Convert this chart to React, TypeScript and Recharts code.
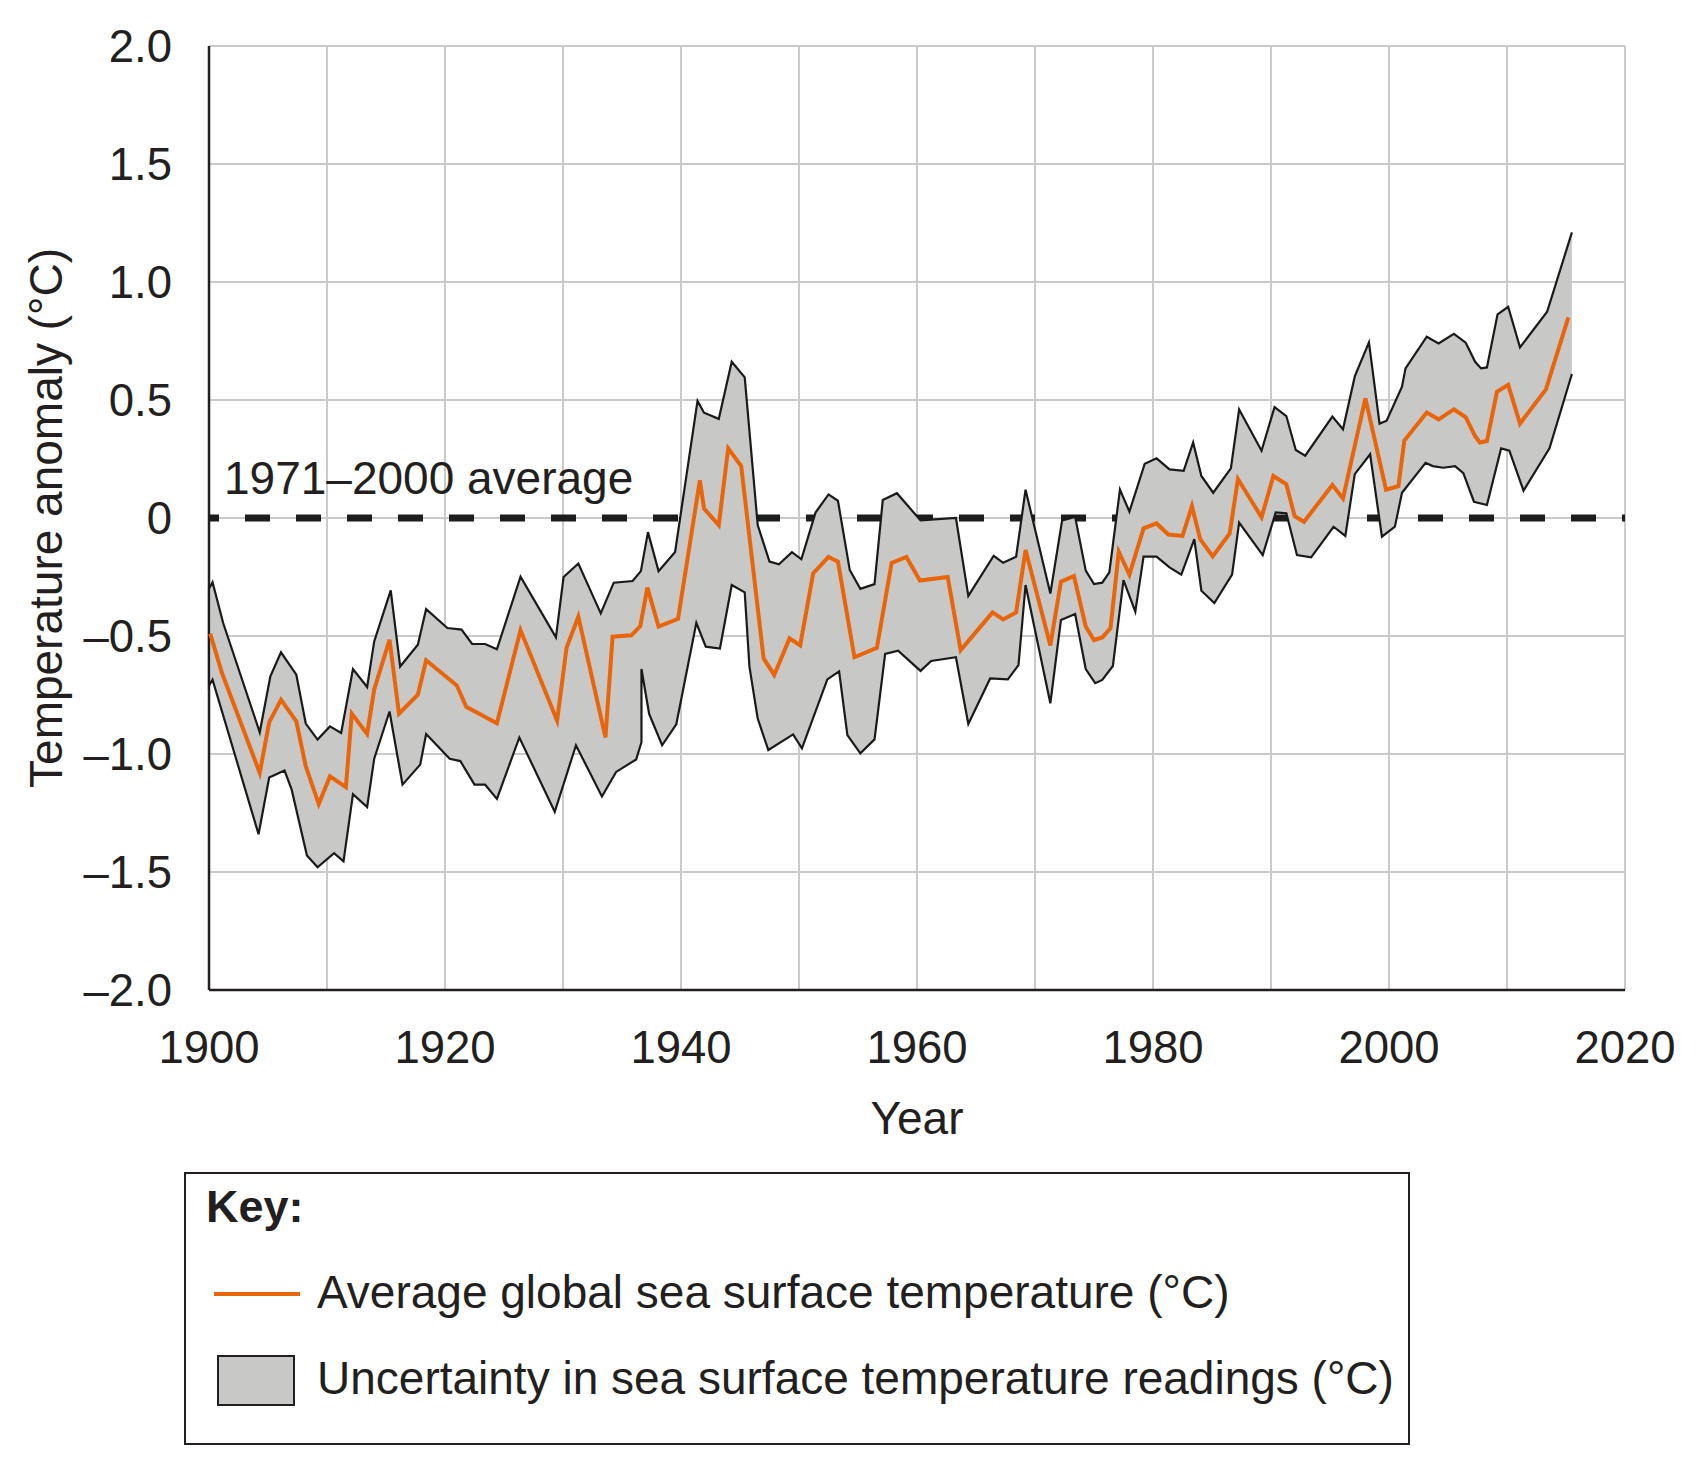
import React from 'react';
import { ScatterChart, Scatter, XAxis, YAxis, CartesianGrid, ReferenceLine } from 'recharts';

// Vertices of the average global sea surface temperature trace: [year, anomaly °C]
const averageSeries: [number, number][] = [
  [1900.1, -0.49], [1901.1, -0.657], [1904.3, -1.08], [1905.1, -0.866], [1906.1, -0.77],
  [1907.4, -0.862], [1908.2, -1.052], [1909.3, -1.212], [1910.25, -1.095], [1911.6, -1.141],
  [1912.1, -0.829], [1913.4, -0.915], [1914.0, -0.727], [1915.3, -0.516], [1916.1, -0.829],
  [1917.7, -0.749], [1918.4, -0.603], [1921.0, -0.71], [1921.8, -0.8], [1924.4, -0.87],
  [1926.4, -0.475], [1929.5, -0.859], [1930.3, -0.55], [1931.3, -0.418], [1933.6, -0.93],
  [1934.2, -0.503], [1935.8, -0.497], [1936.55, -0.458], [1937.15, -0.295], [1938.1, -0.46],
  [1939.75, -0.427], [1941.6, 0.16], [1941.95, 0.04], [1943.2, -0.03], [1944.0, 0.295],
  [1945.1, 0.22], [1947.0, -0.595], [1947.9, -0.665], [1949.2, -0.51], [1950.1, -0.54],
  [1951.2, -0.235], [1952.5, -0.165], [1953.3, -0.185], [1954.7, -0.59], [1956.6, -0.55],
  [1957.85, -0.19], [1959.1, -0.165], [1960.25, -0.265], [1962.6, -0.25], [1963.7, -0.56],
  [1966.4, -0.4], [1967.3, -0.43], [1968.4, -0.4], [1969.2, -0.136], [1971.3, -0.54],
  [1972.2, -0.27], [1973.3, -0.246], [1974.3, -0.46], [1975.0, -0.517], [1975.7, -0.506],
  [1976.4, -0.467], [1977.1, -0.143], [1978.0, -0.24], [1979.2, -0.044], [1980.3, -0.023],
  [1981.3, -0.07], [1982.5, -0.076], [1983.3, 0.05], [1984.0, -0.09], [1985.06, -0.163],
  [1986.5, -0.065], [1987.2, 0.165], [1989.2, 0.003], [1990.2, 0.178], [1991.3, 0.143],
  [1992.0, 0.008], [1992.8, -0.016], [1995.2, 0.14], [1996.1, 0.083], [1998.0, 0.507],
  [1999.75, 0.12], [2000.8, 0.135], [2001.3, 0.328], [2003.2, 0.447], [2004.2, 0.418],
  [2005.5, 0.46], [2006.5, 0.427], [2007.3, 0.347], [2007.7, 0.32], [2008.3, 0.326],
  [2009.15, 0.535], [2010.1, 0.564], [2011.1, 0.4], [2013.3, 0.545], [2015.2, 0.85],
];

// Upper edge of the uncertainty band
const upperBound: [number, number][] = [
  [1900.0, -0.3], [1900.3, -0.272], [1901.2, -0.445], [1904.3, -0.908], [1905.2, -0.671],
  [1906.1, -0.569], [1907.4, -0.664], [1908.2, -0.871], [1909.2, -0.939], [1910.25, -0.883],
  [1911.2, -0.911], [1912.2, -0.64], [1913.4, -0.716], [1914.0, -0.523], [1915.4, -0.307],
  [1916.2, -0.629], [1917.7, -0.537], [1918.4, -0.386], [1920.2, -0.466], [1921.4, -0.473],
  [1922.3, -0.534], [1923.4, -0.534], [1924.4, -0.556], [1926.4, -0.249], [1929.4, -0.506],
  [1930.05, -0.25], [1931.3, -0.193], [1933.2, -0.404], [1934.3, -0.274], [1935.9, -0.267],
  [1936.6, -0.225], [1937.2, -0.06], [1938.1, -0.225], [1939.5, -0.144], [1941.4, 0.496],
  [1941.95, 0.446], [1943.2, 0.42], [1944.3, 0.662], [1945.4, 0.596], [1946.5, -0.03],
  [1947.5, -0.185], [1948.3, -0.196], [1949.4, -0.145], [1950.2, -0.175], [1951.4, 0.023],
  [1952.5, 0.1], [1953.3, 0.073], [1954.3, -0.22], [1955.2, -0.3], [1956.4, -0.28],
  [1957.1, 0.076], [1958.3, 0.105], [1960.3, -0.01], [1963.3, 0.0], [1964.35, -0.33],
  [1966.5, -0.16], [1967.3, -0.19], [1968.4, -0.164], [1969.2, 0.12], [1971.3, -0.32],
  [1972.3, -0.01], [1973.4, 0.005], [1974.3, -0.223], [1975.0, -0.28], [1975.7, -0.274],
  [1976.3, -0.23], [1977.2, 0.12], [1978.0, 0.027], [1979.3, 0.23], [1980.3, 0.253],
  [1981.4, 0.206], [1982.6, 0.2], [1983.4, 0.32], [1984.1, 0.178], [1985.1, 0.107],
  [1986.6, 0.21], [1987.3, 0.46], [1989.2, 0.285], [1990.3, 0.47], [1991.3, 0.432],
  [1992.1, 0.288], [1992.9, 0.264], [1995.2, 0.43], [1996.1, 0.376], [1997.1, 0.6],
  [1998.3, 0.744], [1999.2, 0.4], [1999.8, 0.412], [2001.1, 0.556], [2001.4, 0.634],
  [2003.2, 0.768], [2004.2, 0.74], [2005.5, 0.78], [2006.5, 0.743], [2007.3, 0.662],
  [2007.8, 0.634], [2008.3, 0.638], [2009.2, 0.863], [2010.1, 0.895], [2011.1, 0.723],
  [2013.4, 0.874], [2015.5, 1.21],
];

// Lower edge of the uncertainty band
const lowerBound: [number, number][] = [
  [1900.0, -0.71], [1900.3, -0.685], [1904.2, -1.34], [1905.1, -1.1], [1906.4, -1.07],
  [1907.0, -1.15], [1908.3, -1.43], [1909.2, -1.48], [1910.6, -1.42], [1911.4, -1.455],
  [1912.2, -1.17], [1913.4, -1.225], [1914.0, -1.02], [1915.3, -0.82], [1916.4, -1.13],
  [1917.9, -1.045], [1918.4, -0.915], [1920.4, -1.02], [1921.3, -1.03], [1922.5, -1.13],
  [1923.4, -1.13], [1924.4, -1.19], [1926.3, -0.93], [1929.3, -1.245], [1931.1, -0.963],
  [1933.3, -1.18], [1934.5, -1.076], [1936.2, -1.023], [1936.65, -0.95], [1936.65, -0.64],
  [1937.3, -0.83], [1938.4, -0.963], [1939.6, -0.874], [1941.3, -0.444], [1942.1, -0.545],
  [1943.3, -0.553], [1944.3, -0.284], [1945.4, -0.315], [1945.8, -0.63], [1946.5, -0.85],
  [1947.4, -0.983], [1949.5, -0.917], [1950.25, -0.976], [1952.4, -0.684], [1953.4, -0.65],
  [1954.1, -0.92], [1955.2, -0.997], [1956.4, -0.938], [1957.3, -0.576], [1958.4, -0.562],
  [1960.3, -0.648], [1961.2, -0.606], [1963.3, -0.59], [1964.35, -0.873], [1966.2, -0.68],
  [1967.7, -0.684], [1968.6, -0.623], [1969.2, -0.284], [1971.3, -0.785], [1972.2, -0.432],
  [1973.4, -0.407], [1974.3, -0.64], [1975.1, -0.7], [1975.7, -0.686], [1976.6, -0.627],
  [1977.5, -0.263], [1978.5, -0.397], [1979.2, -0.164], [1980.3, -0.164], [1981.4, -0.209],
  [1982.4, -0.24], [1983.5, -0.09], [1984.1, -0.308], [1985.2, -0.36], [1986.7, -0.24],
  [1987.3, -0.02], [1989.3, -0.157], [1990.4, 0.024], [1991.3, 0.02], [1992.2, -0.157],
  [1993.4, -0.167], [1995.3, -0.037], [1996.3, -0.076], [1997.1, 0.186], [1998.4, 0.27],
  [1999.4, -0.079], [2000.5, -0.037], [2001.1, 0.107], [2003.1, 0.234], [2003.7, 0.22],
  [2004.6, 0.213], [2005.6, 0.22], [2006.3, 0.19], [2007.2, 0.069], [2008.3, 0.055],
  [2009.5, 0.295], [2010.2, 0.285], [2011.4, 0.116], [2013.6, 0.295], [2015.5, 0.61],
];

// The 1971–2000 reference level, drawn across the whole period
const baselineSpan: [number, number][] = [[1900, 0], [2020, 0]];

const yearTicks = [1900, 1910, 1920, 1930, 1940, 1950, 1960, 1970, 1980, 1990, 2000, 2010, 2020];
const anomalyTicks = [-2, -1.5, -1, -0.5, 0, 0.5, 1, 1.5, 2];

const FONT = '"Liberation Sans", Arial, Helvetica, sans-serif';
const INK = '#231f20';
const ORANGE = '#e8650c';
const BAND_FILL = '#c8c8c6';
const GRID = '#cacaca';
const TEXT_SIZE = 46;
const TICK_SIZE = 45.5;

const toPoints = (pairs: [number, number][]) => pairs.map(([year, temp]) => ({ year, temp }));

// Band outline: upper edge right-to-left, then lower edge left-to-right
const bandOutline = toPoints([...upperBound].reverse().concat(lowerBound));
const averagePoints = toPoints(averageSeries);
const baselinePoints = toPoints(baselineSpan);

const NoMarker = () => <g />;

const formatYear = (v: number) => (v % 20 === 0 ? String(v) : '');
const formatAnomaly = (v: number) =>
  v === 0 ? '0' : `${v < 0 ? '\u2013' : ''}${Math.abs(v).toFixed(1)}`;

const BaselineLabel = (props: any) => {
  const { viewBox } = props;
  return (
    <text
      x={viewBox.x + 15}
      y={viewBox.y - 24}
      fontFamily={FONT}
      fontSize={TEXT_SIZE}
      fill={INK}
    >
      1971–2000 average
    </text>
  );
};

export default function App() {
  return (
    <div
      style={{
        position: 'absolute',
        left: 0,
        top: 0,
        width: 1698,
        height: 1464,
        background: '#ffffff',
        fontFamily: FONT,
        color: INK,
      }}
    >
      <ScatterChart
        width={1698}
        height={1160}
        margin={{ top: 46, right: 73, bottom: 0, left: 0 }}
      >
        <CartesianGrid stroke={GRID} strokeWidth={2} />
        <XAxis
          type="number"
          dataKey="year"
          domain={[1900, 2020]}
          ticks={yearTicks}
          tickFormatter={formatYear}
          interval={0}
          height={170}
          tickLine={false}
          tickSize={0}
          tickMargin={41}
          axisLine={{ stroke: INK, strokeWidth: 2.5 }}
          tick={{ fontSize: TICK_SIZE, fill: INK, fontFamily: FONT }}
          label={{
            value: 'Year',
            position: 'insideTop',
            offset: 111,
            fontSize: TEXT_SIZE,
            fill: INK,
            fontFamily: FONT,
          }}
        />
        <YAxis
          type="number"
          dataKey="temp"
          domain={[-2, 2]}
          ticks={anomalyTicks}
          tickFormatter={formatAnomaly}
          interval={0}
          width={209}
          tickLine={false}
          tickSize={0}
          tickMargin={37}
          axisLine={{ stroke: INK, strokeWidth: 2.5 }}
          tick={{ fontSize: TICK_SIZE, fill: INK, fontFamily: FONT }}
          label={{
            value: 'Temperature anomaly (°C)',
            angle: -90,
            position: 'insideLeft',
            offset: 46,
            fontSize: TEXT_SIZE,
            fill: INK,
            fontFamily: FONT,
            style: { textAnchor: 'middle' },
          }}
        />
        <ReferenceLine y={0} stroke="none" label={<BaselineLabel />} />
        <Scatter
          data={baselinePoints}
          shape={NoMarker}
          line={{ stroke: '#1c1c1c', strokeWidth: 7, strokeDasharray: '25 26', strokeDashoffset: 15 }}
          lineType="joint"
          lineJointType="linear"
          isAnimationActive={false}
        />
        <Scatter
          data={bandOutline}
          shape={NoMarker}
          line={{ fill: BAND_FILL, stroke: '#1a1a1a', strokeWidth: 2.2, strokeLinejoin: 'miter' }}
          lineType="joint"
          lineJointType="linear"
          isAnimationActive={false}
        />
        <Scatter
          data={averagePoints}
          shape={NoMarker}
          line={{ stroke: ORANGE, strokeWidth: 4 }}
          lineType="joint"
          lineJointType="linear"
          isAnimationActive={false}
        />
      </ScatterChart>

      <div
        style={{
          position: 'absolute',
          left: 184,
          top: 1172,
          width: 1222,
          height: 269,
          border: `2px solid ${INK}`,
          boxSizing: 'content-box',
        }}
      >
        <div
          style={{
            position: 'absolute',
            left: 20,
            top: 8,
            fontSize: 45,
            fontWeight: 700,
            lineHeight: '50px',
          }}
        >
          Key:
        </div>
        <div
          style={{
            position: 'absolute',
            left: 28,
            top: 118,
            width: 86,
            height: 4,
            background: ORANGE,
          }}
        />
        <div
          style={{
            position: 'absolute',
            left: 131,
            top: 93,
            fontSize: TEXT_SIZE,
            lineHeight: '50px',
            whiteSpace: 'nowrap',
          }}
        >
          Average global sea surface temperature (°C)
        </div>
        <div
          style={{
            position: 'absolute',
            left: 31,
            top: 181,
            width: 74,
            height: 47,
            background: BAND_FILL,
            border: `2px solid ${INK}`,
          }}
        />
        <div
          style={{
            position: 'absolute',
            left: 131,
            top: 179,
            fontSize: TEXT_SIZE,
            lineHeight: '50px',
            whiteSpace: 'nowrap',
          }}
        >
          Uncertainty in sea surface temperature readings (°C)
        </div>
      </div>
    </div>
  );
}
